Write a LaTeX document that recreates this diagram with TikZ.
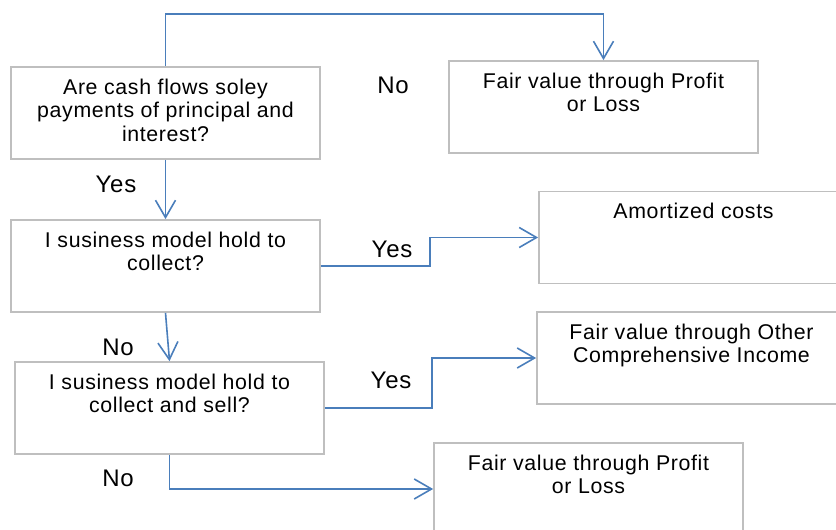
\documentclass[tikz,border=0pt]{standalone}
\usepackage{fontspec}
\setmainfont{Liberation Sans}[LetterSpace=3.0]
\usepackage{tikz}
\usetikzlibrary{
    arrows.meta
}
\definecolor{flowblue}{HTML}{4A7EBB}
\definecolor{boxgray}{HTML}{BFBFBF}
\newcommand{\boxtext}[1]{%
    \parbox[c][69pt][t]{231.75pt}{\vspace*{8pt}\centering
        \fontsize{16}{17.6}\selectfont\strut #1\par}}
\tikzset{
    >={Straight Barb[length=13pt,width=15pt]},
    box/.style={
        draw=boxgray,
        line width=1.3pt,
        inner sep=0pt
    },
    flow/.style={
        ->,
        draw=flowblue,
        line width=1.2pt
    },
    lbl/.style={
        font=\fontsize{18}{20}\selectfont,
        anchor=base,
        inner sep=0pt
    }
}

\begin{document}
\begin{tikzpicture}[
    x=0.75pt,
    y=-0.75pt
]
    \useasboundingbox (0,0) rectangle (836,529);
    \clip (0,0) rectangle (836,529);

    % Preguntas
    \node[box] (cash) at (165.5,113)   {\boxtext{Are cash flows soley\\payments of principal and\\interest?}};
    \node[box] (hold) at (165.5,266)   {\boxtext{I susiness model hold to\\collect?}};
    \node[box] (sell) at (169.5,408)   {\boxtext{I susiness model hold to\\collect and sell?}};

    % Resultados
    \node[box] (fvpl) at (603.5,107)   {\boxtext{Fair value through Profit\\or Loss}};
    \node[box] (amc)  at (693.5,237.5) {\boxtext{Amortized costs}};
    \node[box] (oci)  at (691.5,358)   {\boxtext{Fair value through Other\\Comprehensive Income}};
    \node[box] (fvpl2) at (588.5,489)  {\boxtext{Fair value through Profit\\or Loss}};

    % Etiquetas
    \node[lbl] (no1)  at (393,93)    {No};
    \node[lbl] (yes1) at (116,192)   {Yes};
    \node[lbl] (yes2) at (392,257)   {Yes};
    \node[lbl] (no2)  at (118,355)   {No};
    \node[lbl] (yes3) at (391,388)   {Yes};
    \node[lbl] (no3)  at (118,486.5) {No};

    % Flechas
    \draw[flow] (cash.north) -- ++(0,-52) -| (fvpl.north);
    \draw[flow] (cash.south) -- (hold.north);
    \draw[flow] (hold.east) -- ++(109,0) |- (amc.west);
    \draw[flow] (hold.south) -- (sell.north);
    \draw[flow] (sell.east) -- ++(107,0) |- (oci.west);
    \draw[flow] (sell.south) |- (fvpl2.west);

\end{tikzpicture}
\end{document}
